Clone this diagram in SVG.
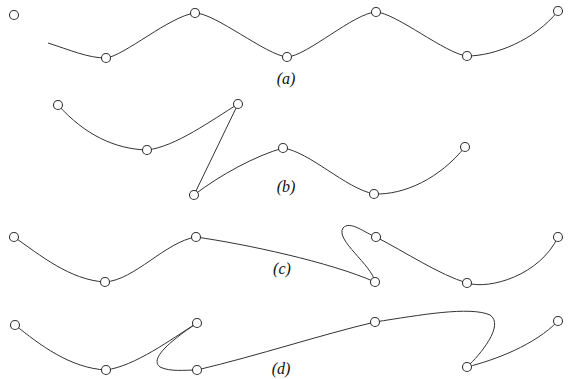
<svg xmlns="http://www.w3.org/2000/svg" width="577" height="379" viewBox="0 0 577 379">
<style>
.k{fill:#fff;stroke:#333;stroke-width:1.1}
.c{fill:none;stroke:#333;stroke-width:1}
.t{font-family:"Liberation Serif",serif;font-style:italic;font-size:16px;fill:#111}
</style>
<rect width="577" height="379" fill="#fff"/>
<g id="connectors">
<path class="c" d="M48,43 C70,50 88,58 106,58 C124,56 170,16 195,13 C215,13 266,55 287,57 C307,56 354,13 376,12 C396,13 446,54 467,56 C495,56 535,40 558,11"/>
<path class="c" d="M58,105 C85,135 115,149 147,150 C175,147 212,120 238,104 L194,195 C220,175 255,156 283,148 C310,152 345,188 374,194 C405,195 440,178 465,147"/>
<path class="c" d="M14,237 C40,255 70,280 105,282 C135,280 165,242 196,237 C245,244 330,262 375,282 C372,265 335,240 343,228 C350,220 365,233 376,237 C405,252 440,275 467,283 C490,290 540,275 558,237"/>
<path class="c" d="M15,325 C40,345 70,368 106,370 C135,366 170,340 197,323 C175,338 148,358 160,367 C170,372 185,370 197,370 C260,355 320,335 375,322 C420,315 470,306 490,315 C505,325 480,355 467,367 C495,360 535,345 558,321"/>
</g>
<g id="a">
<circle class="k" cx="14" cy="15" r="4.5"/>
<circle class="k" cx="106" cy="58" r="4.5"/>
<circle class="k" cx="195" cy="13" r="4.5"/>
<circle class="k" cx="287" cy="57" r="4.5"/>
<circle class="k" cx="376" cy="12" r="4.5"/>
<circle class="k" cx="467" cy="56" r="4.5"/>
<circle class="k" cx="558" cy="11" r="4.5"/>
<text class="t" x="286" y="84" text-anchor="middle">(a)</text>
</g>
<g id="b">
<circle class="k" cx="58" cy="105" r="4.5"/>
<circle class="k" cx="147" cy="150" r="4.5"/>
<circle class="k" cx="238" cy="104" r="4.5"/>
<circle class="k" cx="194" cy="195" r="4.5"/>
<circle class="k" cx="283" cy="148" r="4.5"/>
<circle class="k" cx="374" cy="194" r="4.5"/>
<circle class="k" cx="465" cy="147" r="4.5"/>
<text class="t" x="286" y="192" text-anchor="middle">(b)</text>
</g>
<g id="c">
<circle class="k" cx="14" cy="237" r="4.5"/>
<circle class="k" cx="105" cy="282" r="4.5"/>
<circle class="k" cx="196" cy="237" r="4.5"/>
<circle class="k" cx="375" cy="282" r="4.5"/>
<circle class="k" cx="376" cy="237" r="4.5"/>
<circle class="k" cx="467" cy="283" r="4.5"/>
<circle class="k" cx="558" cy="237" r="4.5"/>
<text class="t" x="282" y="274" text-anchor="middle">(c)</text>
</g>
<g id="d">
<circle class="k" cx="15" cy="325" r="4.5"/>
<circle class="k" cx="106" cy="370" r="4.5"/>
<circle class="k" cx="197" cy="323" r="4.5"/>
<circle class="k" cx="197" cy="370" r="4.5"/>
<circle class="k" cx="375" cy="322" r="4.5"/>
<circle class="k" cx="467" cy="367" r="4.5"/>
<circle class="k" cx="558" cy="321" r="4.5"/>
<text class="t" x="281" y="374" text-anchor="middle">(d)</text>
</g>
</svg>
